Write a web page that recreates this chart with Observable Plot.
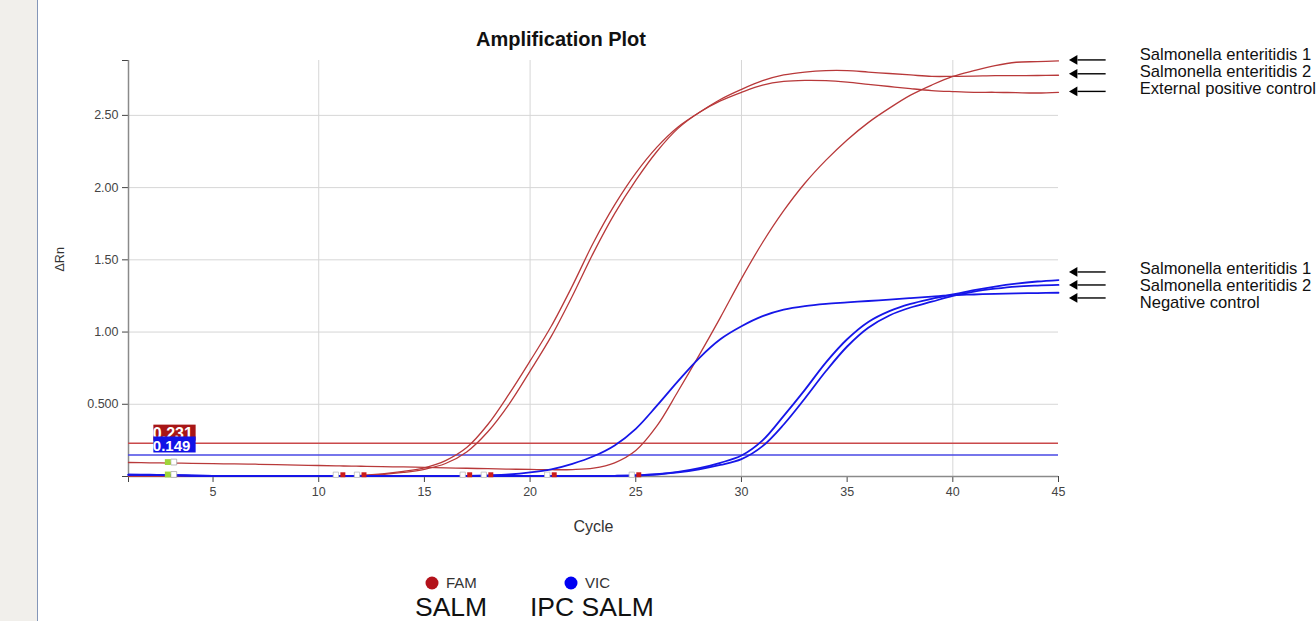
<!DOCTYPE html>
<html><head><meta charset="utf-8">
<script src="https://cdn.jsdelivr.net/npm/d3@7"></script>
<script src="https://cdn.jsdelivr.net/npm/@observablehq/plot@0.6"></script>
<style>
html,body{margin:0;padding:0;width:1316px;height:621px;overflow:hidden;background:#fff;font-family:"Liberation Sans",Arial,sans-serif;}
#strip{position:absolute;left:0;top:0;width:37px;height:621px;background:#f1efeb;border-right:1px solid #8496b8;}
#chart{position:absolute;left:38px;top:0;}
#overlay{position:absolute;left:0;top:0;pointer-events:none;}
</style></head><body>
<div id="strip"></div><div id="chart"></div><svg id="overlay" width="1316" height="621"></svg>
<script>
// ---- data ----
const cycles = [1,2,3,4,5,6,7,8,9,10,11,12,13,14,15,16,17,18,19,20,21,22,23,24,25,26,27,28,29,30,31,32,33,34,35,36,37,38,39,40,41,42,43,44,45];

// FAM (SALM) curves
const famSE1 = [0.097,0.095,0.093,0.091,0.089,0.087,0.085,0.082,0.079,0.076,
  0.073,0.071,0.068,0.066,0.063,0.060,0.057,0.054,0.051,0.049,
  0.047,0.048,0.058,0.095,0.18,0.35,0.59,0.84,1.10,1.37,
  1.62,1.84,2.03,2.19,2.33,2.45,2.55,2.64,2.71,2.77,
  2.81,2.845,2.868,2.872,2.877];
const famSE2 = [0.003,0.003,0.003,0.003,0.003,0.003,0.003,0.003,0.003,0.003,
  0.004,0.008,0.018,0.035,0.06,0.11,0.20,0.36,0.57,0.80,
  1.04,1.32,1.62,1.88,2.10,2.28,2.42,2.52,2.61,2.68,
  2.74,2.78,2.80,2.81,2.81,2.80,2.79,2.78,2.77,2.77,
  2.772,2.775,2.775,2.776,2.778];
const famExt = [0.002,0.002,0.002,0.002,0.002,0.002,0.002,0.002,0.002,0.002,
  0.003,0.006,0.014,0.028,0.05,0.09,0.17,0.31,0.50,0.73,
  0.97,1.25,1.55,1.82,2.05,2.25,2.41,2.52,2.60,2.66,
  2.71,2.735,2.742,2.74,2.73,2.715,2.70,2.685,2.672,2.665,
  2.66,2.66,2.657,2.655,2.66];

// VIC (IPC SALM) curves
const vicSE1 = [0.012,0.011,0.009,0.006,0.004,0.004,0.004,0.004,0.004,0.004,
  0.004,0.004,0.004,0.004,0.004,0.004,0.004,0.004,0.004,0.004,
  0.004,0.004,0.004,0.005,0.008,0.016,0.032,0.058,0.095,0.145,
  0.25,0.42,0.60,0.79,0.95,1.07,1.145,1.195,1.23,1.26,
  1.29,1.315,1.335,1.35,1.36];
const vicSE2 = [0.011,0.010,0.008,0.005,0.003,0.003,0.003,0.003,0.003,0.003,
  0.003,0.003,0.003,0.003,0.003,0.003,0.003,0.003,0.003,0.003,
  0.003,0.003,0.003,0.004,0.007,0.014,0.028,0.05,0.08,0.12,
  0.21,0.36,0.54,0.73,0.90,1.03,1.115,1.17,1.21,1.25,
  1.28,1.30,1.315,1.322,1.326];
const vicNeg = [0.013,0.012,0.010,0.007,0.005,0.005,0.005,0.005,0.005,0.005,
  0.005,0.005,0.005,0.005,0.005,0.005,0.005,0.008,0.014,0.028,
  0.05,0.088,0.14,0.215,0.33,0.49,0.66,0.82,0.95,1.04,
  1.11,1.155,1.18,1.195,1.205,1.215,1.225,1.235,1.245,1.255,
  1.26,1.265,1.268,1.27,1.272];

const famSeriesNames = ["Salmonella enteritidis 1","Salmonella enteritidis 2","External positive control"];
const famSeriesValues = [famSE1, famSE2, famExt];
const vicSeriesNames = ["Salmonella enteritidis 1","Salmonella enteritidis 2","Negative control"];
const vicSeriesValues = [vicSE1, vicSE2, vicNeg];

// thresholds
const thresholdDyes = ["FAM","VIC"];
const thresholdValues = [0.231, 0.149];
const thresholdLabels = ["0.231","0.149"];

// baseline markers
const baselineMarkerCycles = [11, 12, 17, 18, 21, 25];
const baselineMarkerValue = 0.012;
const greenMarkerCycles = [3, 3];
const greenMarkerValues = [0.1, 0.014];

// axes
const xTickValues = [1,5,10,15,20,25,30,35,40,45];
const xTickLabels = ["","5","10","15","20","25","30","35","40","45"];
const xGrid = [10,20,30,40];
const yTickValues = [0,0.5,1,1.5,2,2.5,2.88];
const yTickLabels = ["","0.500","1.00","1.50","2.00","2.50",""];
const yGrid = [0.5,1,1.5,2,2.5];
const yMax = 2.88;

// annotations on the right
const annotLabels = ["Salmonella enteritidis 1","Salmonella enteritidis 2","External positive control",
  "Salmonella enteritidis 1","Salmonella enteritidis 2","Negative control"];
const annotTextValues = [2.92, 2.80, 2.685, 1.44, 1.322, 1.20];
const annotArrowValues = [2.884, 2.788, 2.666, 1.416, 1.326, 1.236];

// legend
const legendDyes = ["FAM","VIC"];
const legendTargets = ["SALM","IPC SALM"];

// ---- styles ----
const RED = "#b8393a", BLUE = "#1616e8";
const RED_TH = "#c9494a", BLUE_TH = "#4848e4";
const BOX_RED = "#a81616", BOX_BLUE = "#1212e6";
const LEG_RED = "#b3121b", LEG_BLUE = "#0000f2";

// ---- build tables ----
const famRows = [];
famSeriesValues.forEach((vals, s) => vals.forEach((v, i) => famRows.push({series: "FAM " + famSeriesNames[s], cycle: cycles[i], value: v})));
const vicRows = [];
vicSeriesValues.forEach((vals, s) => vals.forEach((v, i) => vicRows.push({series: "VIC " + vicSeriesNames[s], cycle: cycles[i], value: v})));
const thresholds = thresholdDyes.map((d, i) => ({dye: d, value: thresholdValues[i], label: thresholdLabels[i]}));
const baseMarkers = baselineMarkerCycles.map(c => ({cycle: c, value: baselineMarkerValue}));
const greenMarkers = greenMarkerCycles.map((c, i) => ({cycle: c, value: greenMarkerValues[i]}));
const annots = annotLabels.map((l, i) => ({label: l, ty: annotTextValues[i], ay: annotArrowValues[i]}));

const chart = Plot.plot({
  width: 1278, height: 561,
  marginLeft: 90, marginRight: 258, marginTop: 60, marginBottom: 85,
  style: {fontFamily: "'Liberation Sans', Arial, sans-serif", fontSize: "12.5px", color: "#444", background: "transparent", overflow: "visible"},
  x: {domain: [1, 45], ticks: xTickValues, tickFormat: d => xTickLabels[xTickValues.indexOf(d)], tickSize: 6, tickPadding: 5, label: null},
  y: {domain: [0, yMax], ticks: yTickValues, tickFormat: d => yTickLabels[yTickValues.indexOf(d)], tickSize: 6, tickPadding: 4, label: null},
  marks: [
    Plot.ruleX(xGrid, {y1: 0, y2: yMax, stroke: "#d6d6d6", strokeWidth: 1}),
    Plot.ruleY(yGrid, {x1: 1, x2: 45, stroke: "#d6d6d6", strokeWidth: 1}),
    Plot.ruleX([1], {y1: 0, y2: yMax, stroke: "#8a8a8a", strokeWidth: 1.5}),
    Plot.ruleY([0], {x1: 1, x2: 45, stroke: "#8a8a8a", strokeWidth: 1.5}),
    Plot.ruleY(thresholds, {y: "value", x1: 1, x2: 45, stroke: d => d.dye === "FAM" ? RED_TH : BLUE_TH, strokeWidth: 1.5}),
    Plot.line(famRows, {x: "cycle", y: "value", z: "series", stroke: RED, strokeWidth: 1.3, curve: "catmull-rom"}),
    Plot.line(vicRows, {x: "cycle", y: "value", z: "series", stroke: BLUE, strokeWidth: 1.8, curve: "catmull-rom"}),
    // baseline start/end markers
    Plot.dot(baseMarkers, {x: "cycle", y: "value", dx: -4, symbol: "square", r: 3, fill: "white", stroke: "#bbbbbb", strokeWidth: 0.8}),
    Plot.dot(baseMarkers, {x: "cycle", y: "value", dx: 3, symbol: "square", r: 2.8, fill: "#cc1a1a"}),
    Plot.dot(greenMarkers, {x: "cycle", y: "value", dx: 3, symbol: "square", r: 3.3, fill: "white", stroke: "#aaaaaa", strokeWidth: 0.8}),
    Plot.dot(greenMarkers, {x: "cycle", y: "value", dx: -3, symbol: "square", r: 3.3, fill: "#9fd43a"}),
    // threshold label boxes
    Plot.rect([thresholds[0]], {x1: 2.2, x2: 4.2, y1: "value", y2: "value", insetTop: -18, insetBottom: 2, fill: BOX_RED}),
    Plot.text([thresholds[0]], {x: 2.2, y: "value", text: "label", dx: -1, dy: -9, textAnchor: "start", fill: "white", fontSize: 16, fontWeight: "bold"}),
    Plot.rect([thresholds[1]], {x1: 2.2, x2: 4.2, y1: "value", y2: "value", insetTop: -18, insetBottom: 2, fill: BOX_BLUE}),
    Plot.text([thresholds[1]], {x: 2.2, y: "value", text: "label", dx: -1, dy: -9, textAnchor: "start", fill: "white", fontSize: 15, fontWeight: "bold"}),
    // right annotations
    Plot.link(annots, {x1: 45.9, x2: 47.23, y1: "ay", y2: "ay", stroke: "black", strokeWidth: 1.4}),
    Plot.dot(annots, {x: 45.76, y: "ay", symbol: "triangle", rotate: -90, r: 3.6, fill: "black"}),
    Plot.text(annots, {x: 48.84, y: "ty", text: "label", textAnchor: "start", fontSize: 16.6, fill: "#111"}),
    // axis titles
    Plot.text(["ΔRn"], {frameAnchor: "left", rotate: -90, dx: -69, dy: 3, fontSize: 12.5, fill: "#333"}),
    Plot.text(["Cycle"], {frameAnchor: "bottom", dy: 55, fontSize: 16, fill: "#333"})
  ]
});
document.getElementById("chart").appendChild(chart);

// ---- title & legend ----
const ov = d3.select("#overlay");
ov.append("text").attr("x", 561).attr("y", 46).attr("text-anchor", "middle")
  .attr("font-size", 20).attr("font-weight", "bold").attr("fill", "#111")
  .attr("font-family", "'Liberation Sans', Arial, sans-serif").text("Amplification Plot");
const legColors = [LEG_RED, LEG_BLUE];
const legDotX = [432, 571];
const legTargetX = [415, 530];
legendDyes.forEach((d, i) => {
  ov.append("circle").attr("cx", legDotX[i]).attr("cy", 583).attr("r", 6.5).attr("fill", legColors[i]);
  ov.append("text").attr("x", legDotX[i] + 14).attr("y", 588).attr("font-size", 15).attr("fill", "#333")
    .attr("font-family", "'Liberation Sans', Arial, sans-serif").text(d);
  ov.append("text").attr("x", legTargetX[i]).attr("y", 616).attr("font-size", 26.5).attr("fill", "#111")
    .attr("font-family", "'Liberation Sans', Arial, sans-serif").text(legendTargets[i]);
});
</script>
</body></html>
